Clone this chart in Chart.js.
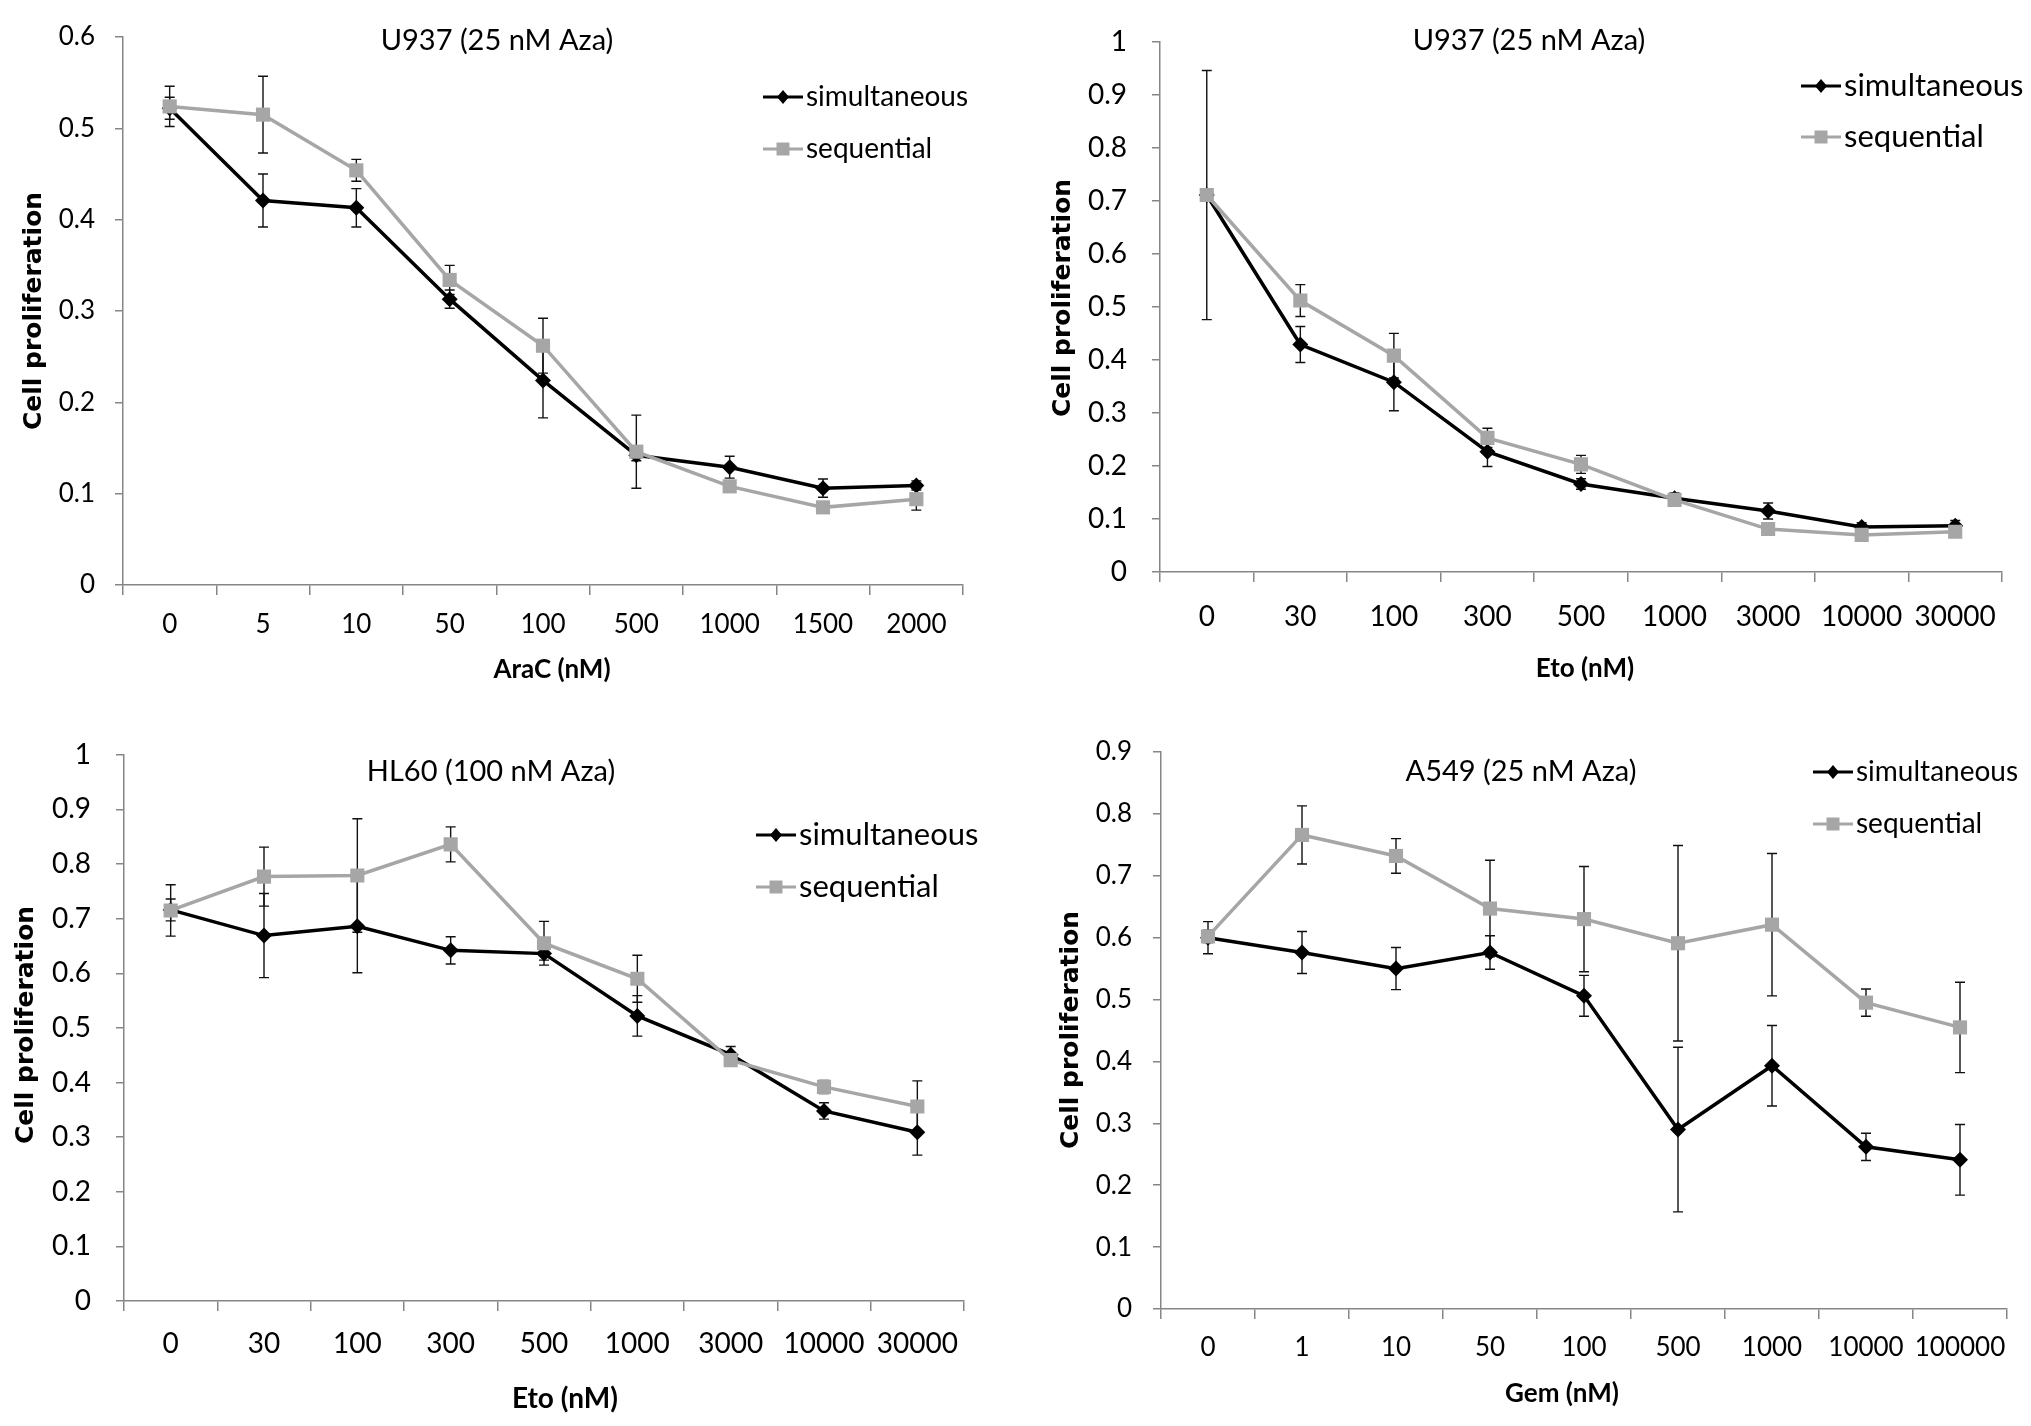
<!DOCTYPE html>
<html>
<head>
<meta charset="utf-8">
<script src="https://cdn.jsdelivr.net/npm/chart.js@4.4.1/dist/chart.umd.min.js"></script>
<style>
  html, body { margin: 0; padding: 0; background: #fff; }
  body { width: 2031px; height: 1426px; position: relative; overflow: hidden; }
  .panel { position: absolute; }
</style>
</head>
<body>
<div class="panel" style="left:0;top:0;width:1015px;height:713px"><canvas id="c1"></canvas></div>
<div class="panel" style="left:1015px;top:0;width:1016px;height:713px"><canvas id="c2"></canvas></div>
<div class="panel" style="left:0;top:713px;width:1015px;height:713px"><canvas id="c3"></canvas></div>
<div class="panel" style="left:1015px;top:713px;width:1016px;height:713px"><canvas id="c4"></canvas></div>
<script>
// series names
const seriesNames = ["simultaneous", "sequential"];

// U937 + AraC
const araLabels = ["0", "5", "10", "50", "100", "500", "1000", "1500", "2000"];
const araSim = [0.522, 0.421, 0.413, 0.313, 0.224, 0.142, 0.129, 0.106, 0.109];
const araSimErr = [0.012, 0.029, 0.021, 0.010, 0.041, 0.006, 0.012, 0.010, 0.005];
const araSeq = [0.524, 0.515, 0.454, 0.334, 0.262, 0.146, 0.108, 0.085, 0.094];
const araSeqErr = [0.022, 0.042, 0.012, 0.016, 0.030, 0.040, 0.005, 0.004, 0.012];

// U937 + Eto
const etoLabels = ["0", "30", "100", "300", "500", "1000", "3000", "10000", "30000"];
const uEtoSim = [0.711, 0.429, 0.358, 0.227, 0.166, 0.139, 0.115, 0.085, 0.087];
const uEtoSimErr = [0.235, 0.034, 0.054, 0.028, 0.010, 0.010, 0.015, 0.008, 0.010];
const uEtoSeq = [0.711, 0.512, 0.408, 0.253, 0.203, 0.136, 0.081, 0.070, 0.076];
const uEtoSeqErr = [0.010, 0.030, 0.042, 0.018, 0.017, 0.010, 0.005, 0.005, 0.008];

// HL60 + Eto
const hlSim = [0.716, 0.669, 0.686, 0.642, 0.636, 0.522, 0.451, 0.348, 0.309];
const hlSimErr = [0.020, 0.077, 0.085, 0.025, 0.012, 0.037, 0.015, 0.015, 0.042];
const hlSeq = [0.715, 0.777, 0.779, 0.836, 0.655, 0.590, 0.441, 0.392, 0.356];
const hlSeqErr = [0.047, 0.054, 0.104, 0.032, 0.040, 0.043, 0.010, 0.012, 0.047];

// A549 + Gem
const gemLabels = ["0", "1", "10", "50", "100", "500", "1000", "10000", "100000"];
const gemSim = [0.600, 0.576, 0.550, 0.576, 0.506, 0.290, 0.393, 0.262, 0.241];
const gemSimErr = [0.026, 0.034, 0.034, 0.027, 0.033, 0.133, 0.065, 0.022, 0.057];
const gemSeq = [0.602, 0.766, 0.732, 0.647, 0.630, 0.591, 0.621, 0.495, 0.455];
const gemSeqErr = [0.010, 0.047, 0.028, 0.078, 0.085, 0.158, 0.115, 0.022, 0.073];

// y axis ranges
const araYMax = 0.6;
const uEtoYMax = 1;
const hlYMax = 1;
const gemYMax = 0.9;

const BLACK = "#000000";
const GREY = "#a6a6a6";
const AXIS = "#868686";

// draws error bars, titles and the legend
const decorPlugin = {
  id: "decor",
  beforeDatasetsDraw(chart) {
    const ctx = chart.ctx;
    const xs = chart.scales.x, ys = chart.scales.y;
    ctx.save();
    ctx.strokeStyle = "#111";
    ctx.lineWidth = 1.4;
    chart.data.datasets.forEach(ds => {
      ds.err.forEach((e, i) => {
        const x = xs.getPixelForValue(i);
        const y1 = ys.getPixelForValue(ds.data[i] + e);
        const y2 = ys.getPixelForValue(ds.data[i] - e);
        ctx.beginPath();
        ctx.moveTo(x, y1); ctx.lineTo(x, y2);
        ctx.moveTo(x - 5, y1); ctx.lineTo(x + 5, y1);
        ctx.moveTo(x - 5, y2); ctx.lineTo(x + 5, y2);
        ctx.stroke();
      });
    });
    ctx.restore();
  },
  afterDraw(chart) {
    const o = chart.options.plugins.decor;
    const ctx = chart.ctx;
    ctx.save();
    ctx.fillStyle = "#000";
    ctx.textBaseline = "middle";

    // chart title
    ctx.textAlign = "center";
    ctx.font = o.titleSize + "px Lato";
    ctx.fillText(o.title, o.titleX, o.titleY);

    // x axis title
    ctx.font = "bold " + o.xTitleSize + "px Lato";
    ctx.fillText(o.xTitle, o.xTitleX, o.xTitleY);

    // y axis title
    ctx.save();
    ctx.translate(o.yTitleX, o.yTitleY);
    ctx.rotate(-Math.PI / 2);
    ctx.font = "bold 25px 'DejaVu Sans'";
    ctx.fillText("Cell proliferation", 0, 0);
    ctx.restore();

    // legend
    ctx.textAlign = "left";
    ctx.font = o.legendSize + "px Lato";
    const order = [1, 0];
    order.forEach((di, k) => {
      const ds = chart.data.datasets[di];
      const y = o.legendY[k];
      const x0 = o.legendX, x1 = o.legendX + 40, xm = (x0 + x1) / 2;
      ctx.strokeStyle = ds.borderColor;
      ctx.lineWidth = 3;
      ctx.beginPath();
      ctx.moveTo(x0, y); ctx.lineTo(x1, y);
      ctx.stroke();
      ctx.fillStyle = ds.borderColor;
      ctx.beginPath();
      if (ds.pointStyle === "rect") {
        ctx.rect(xm - 6.5, y - 6.5, 13, 13);
      } else {
        ctx.moveTo(xm - 6, y); ctx.lineTo(xm, y - 7);
        ctx.lineTo(xm + 6, y); ctx.lineTo(xm, y + 7);
        ctx.closePath();
      }
      ctx.fill();
      ctx.fillStyle = "#000";
      ctx.fillText(ds.label, x1 + 3, y);
    });
    ctx.restore();
  }
};

function makePanel(id, p) {
  const W = p.w, H = 713;
  const labelPad = p.xLabelY - p.area.b - 10 - 0.6 * p.tickSize;
  return new Chart(document.getElementById(id), {
    type: "line",
    data: {
      labels: p.labels,
      datasets: [
        {
          label: seriesNames[1],
          data: p.seq,
          err: p.seqErr,
          borderColor: GREY,
          backgroundColor: GREY,
          borderWidth: 3.5,
          pointStyle: "rect",
          pointRadius: 10,
          pointBorderWidth: 0,
          tension: 0,
          order: 0,
        },
        {
          label: seriesNames[0],
          data: p.sim,
          err: p.simErr,
          borderColor: BLACK,
          backgroundColor: BLACK,
          borderWidth: 3.5,
          pointStyle: "rectRot",
          pointRadius: 8,
          pointBorderWidth: 0,
          tension: 0,
          order: 1,
        },
      ],
    },
    options: {
      responsive: true,
      maintainAspectRatio: false,
      animation: false,
      layout: {
        padding: { left: 0, top: p.area.t, right: W - p.area.r, bottom: 0 },
      },
      plugins: {
        legend: { display: false },
        tooltip: { enabled: false },
        decor: p.decor,
      },
      scales: {
        x: {
          type: "category",
          offset: true,
          afterFit(s) { s.height = H - p.area.b; },
          grid: {
            offset: true,
            drawOnChartArea: false,
            tickLength: 10,
            color: AXIS,
            lineWidth: 1.5,
          },
          border: { color: AXIS, width: 1.5 },
          ticks: {
            color: "#000",
            padding: labelPad,
            maxRotation: 0,
            autoSkip: false,
            font: { family: "Lato", size: p.tickSize },
          },
        },
        y: {
          min: 0,
          max: p.yMax,
          afterFit(s) { s.width = p.area.l; },
          grid: {
            drawOnChartArea: false,
            tickLength: 8,
            color: AXIS,
            lineWidth: 1.5,
          },
          border: { color: AXIS, width: 1.5 },
          ticks: {
            stepSize: 0.1,
            color: "#000",
            padding: p.yPad,
            font: { family: "Lato", size: p.tickSize },
            callback: v => String(+v.toFixed(1)),
          },
        },
      },
    },
    plugins: [decorPlugin],
  });
}

makePanel("c1", {
  w: 1015,
  labels: araLabels, sim: araSim, simErr: araSimErr, seq: araSeq, seqErr: araSeqErr,
  yMax: araYMax,
  area: { l: 123, t: 37, r: 963, b: 585 },
  tickSize: 26, yPad: 20, xLabelY: 625,
  decor: {
    title: "U937 (25 nM Aza)", titleSize: 29, titleX: 497, titleY: 41,
    xTitle: "AraC (nM)", xTitleSize: 26, xTitleX: 552, xTitleY: 670,
    yTitleX: 34, yTitleY: 311,
    legendX: 763, legendY: [97, 149], legendSize: 28,
  },
});

makePanel("c2", {
  w: 1016,
  labels: etoLabels, sim: uEtoSim, simErr: uEtoSimErr, seq: uEtoSeq, seqErr: uEtoSeqErr,
  yMax: uEtoYMax,
  area: { l: 145, t: 24, r: 987, b: 572 },
  tickSize: 28, yPad: 25, xLabelY: 617,
  decor: {
    title: "U937 (25 nM Aza)", titleSize: 29, titleX: 514, titleY: 41,
    xTitle: "Eto (nM)", xTitleSize: 26, xTitleX: 570, xTitleY: 669,
    yTitleX: 48, yTitleY: 298,
    legendX: 786, legendY: [86, 137], legendSize: 31,
  },
});

makePanel("c3", {
  w: 1015,
  labels: etoLabels, sim: hlSim, simErr: hlSimErr, seq: hlSeq, seqErr: hlSeqErr,
  yMax: hlYMax,
  area: { l: 124, t: 39, r: 964, b: 588 },
  tickSize: 28, yPad: 25, xLabelY: 631,
  decor: {
    title: "HL60 (100 nM Aza)", titleSize: 29, titleX: 491, titleY: 59,
    xTitle: "Eto (nM)", xTitleSize: 28, xTitleX: 565, xTitleY: 686,
    yTitleX: 26, yTitleY: 312,
    legendX: 756, legendY: [122, 174], legendSize: 31,
  },
});

makePanel("c4", {
  w: 1016,
  labels: gemLabels, sim: gemSim, simErr: gemSimErr, seq: gemSeq, seqErr: gemSeqErr,
  yMax: gemYMax,
  area: { l: 146, t: 39, r: 992, b: 596 },
  tickSize: 26, yPad: 21, xLabelY: 635,
  decor: {
    title: "A549 (25 nM Aza)", titleSize: 29, titleX: 506, titleY: 59,
    xTitle: "Gem (nM)", xTitleSize: 26, xTitleX: 547, xTitleY: 681,
    yTitleX: 56, yTitleY: 317,
    legendX: 798, legendY: [59, 111], legendSize: 28,
  },
});
</script>
</body>
</html>
